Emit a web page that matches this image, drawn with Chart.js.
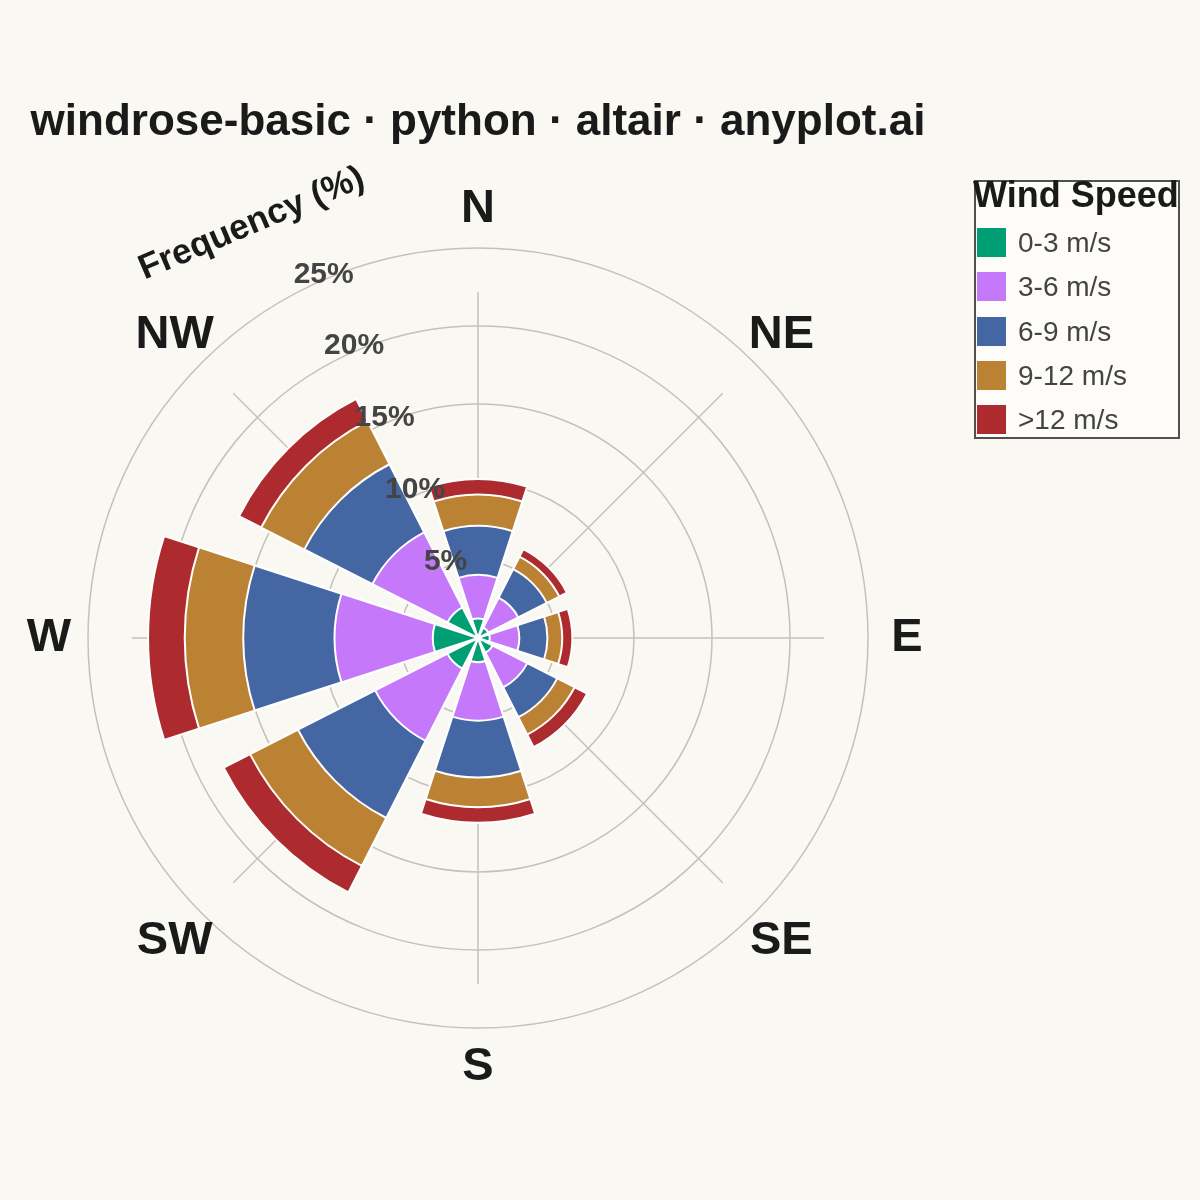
<!DOCTYPE html>
<html>
<head>
<meta charset="utf-8">
<title>windrose-basic</title>
<script src="https://cdn.jsdelivr.net/npm/chart.js@4.4.1/dist/chart.umd.min.js"></script>
<style>
  html, body { margin: 0; padding: 0; background: #faf8f2; }
  #wrap { position: relative; width: 1200px; height: 1200px; font-family: "Liberation Sans", Arial, sans-serif; }
  #rose { position: absolute; left: 0; top: 0; }
  #legendBox { position: absolute; left: 974px; top: 180px; width: 202px; height: 255px; border: 2px solid #505050; background: #fdfcf8; }
  #legendTitle { position: absolute; left: 973px; top: 177px; font-size: 36px; line-height: 36px; font-weight: bold; color: #1a1a1a; white-space: nowrap; }
  .swatch { position: absolute; left: 977px; width: 29px; height: 29px; }
  .lbl { position: absolute; left: 1018px; font-size: 28px; line-height: 29px; color: #444; white-space: nowrap; }
</style>
</head>
<body>
<div id="wrap">
  <canvas id="rose" width="1200" height="1200"></canvas>
  <div id="legendBox"></div>
  <div id="legendTitle">Wind Speed</div>
</div>
<script>
// wind directions (clockwise from north)
const directions = ['N', 'NE', 'E', 'SE', 'S', 'SW', 'W', 'NW'];
const speedBins = ['0-3 m/s', '3-6 m/s', '6-9 m/s', '9-12 m/s', '>12 m/s'];

// frequency (%) of each speed bin per direction
const speed0to3 = [1.25, 0.75, 0.75, 1.05, 1.55, 2.2, 2.9, 2.2];
const speed3to6 = [2.8, 2.15, 1.9, 2.5, 3.75, 5.2, 6.3, 5.4];
const speed6to9 = [3.15, 2.05, 1.8, 2.15, 3.65, 5.55, 5.85, 4.9];
const speed9to12 = [2.0, 0.9, 0.95, 1.25, 1.9, 3.45, 3.75, 3.1];
const speedOver12 = [1.0, 0.55, 0.65, 0.9, 1.0, 1.9, 2.35, 1.6];

const tickValues = [5, 10, 15, 20, 25];
const tickLabels = ['5%', '10%', '15%', '20%', '25%'];

const binColors = ['#009e73', '#c678fb', '#4467a3', '#bc8233', '#ad2b2f'];
const gridColor = '#c4c1ba';
const barAngle = 36;
const gapAngle = 9;

const series = [speed0to3, speed3to6, speed6to9, speed9to12, speedOver12];

// stacked radii: each layer is the running total, drawn outermost first
const cumulative = series.map((s, k) =>
  directions.map((_, i) => series.slice(0, k + 1).reduce((t, arr) => t + arr[i], 0)));

// each direction followed by an empty gap slice
const sliceLabels = [];
directions.forEach(d => { sliceLabels.push(d, ''); });

const datasets = cumulative.map((vals, k) => {
  const data = [];
  vals.forEach(v => { data.push(v, 0); });
  return {
    label: speedBins[k],
    data: data,
    backgroundColor: ctx => ctx.dataIndex % 2 === 0 ? binColors[k] : 'rgba(0,0,0,0)',
    borderColor: '#ffffff',
    borderWidth: ctx => ctx.dataIndex % 2 === 0 ? 2 : 0,
    angle: ctx => ctx.dataIndex % 2 === 0 ? barAngle : gapAngle
  };
});

// html legend
const wrap = document.getElementById('wrap');
speedBins.forEach((name, k) => {
  const sw = document.createElement('div');
  sw.className = 'swatch';
  sw.style.top = (228 + k * 44.3) + 'px';
  sw.style.background = binColors[k];
  wrap.appendChild(sw);
  const lb = document.createElement('div');
  lb.className = 'lbl';
  lb.style.top = (228 + k * 44.3) + 'px';
  lb.textContent = name;
  wrap.appendChild(lb);
});

const FONT = '"Liberation Sans", Arial, sans-serif';
Chart.defaults.font.family = FONT;

const roseDecor = {
  id: 'roseDecor',
  beforeDatasetsDraw(chart) {
    const s = chart.scales.r;
    const ctx = chart.ctx;
    const len = s.drawingArea * 0.8875;
    ctx.save();
    ctx.strokeStyle = gridColor;
    ctx.lineWidth = 1.5;
    directions.forEach((d, i) => {
      const a = (i * 45 - 90) * Math.PI / 180;
      ctx.beginPath();
      ctx.moveTo(s.xCenter, s.yCenter);
      ctx.lineTo(s.xCenter + len * Math.cos(a), s.yCenter + len * Math.sin(a));
      ctx.stroke();
    });
    ctx.restore();
  },
  afterDatasetsDraw(chart) {
    const s = chart.scales.r;
    const ctx = chart.ctx;
    ctx.save();
    ctx.textAlign = 'center';
    ctx.textBaseline = 'middle';

    // compass labels
    ctx.fillStyle = '#1a1a1a';
    ctx.font = 'bold 47px ' + FONT;
    const lr = s.drawingArea * 1.1;
    directions.forEach((d, i) => {
      const a = (i * 45 - 90) * Math.PI / 180;
      ctx.fillText(d, s.xCenter + lr * Math.cos(a), s.yCenter + lr * Math.sin(a));
    });

    // radial tick labels
    ctx.fillStyle = '#444444';
    ctx.font = 'bold 30px ' + FONT;
    const ta = (-23 - 90) * Math.PI / 180;
    tickValues.forEach((v, i) => {
      const r = s.getDistanceFromCenterForValue(v) + 5;
      ctx.fillText(tickLabels[i], s.xCenter + r * Math.cos(ta), s.yCenter + r * Math.sin(ta));
    });

    // radial axis title
    ctx.fillStyle = '#1a1a1a';
    ctx.font = 'bold 35px ' + FONT;
    ctx.translate(s.xCenter - s.drawingArea * 0.58, s.yCenter - s.drawingArea * 1.062);
    ctx.rotate(-23 * Math.PI / 180);
    ctx.fillText('Frequency (%)', 0, 0);
    ctx.restore();
  }
};

new Chart(document.getElementById('rose'), {
  type: 'polarArea',
  data: { labels: sliceLabels, datasets: datasets },
  options: {
    responsive: false,
    animation: false,
    devicePixelRatio: 1,
    // chart area 956 wide x 782 high: rose centred at x 478, title box wide enough
    layout: { padding: { left: 0, right: 244, top: 0, bottom: 171 } },
    scales: {
      r: {
        min: 0,
        max: 25,
        startAngle: -barAngle / 2,
        ticks: { stepSize: 5, display: false },
        grid: { color: gridColor, lineWidth: 1.5, circular: true },
        angleLines: { display: false },
        pointLabels: { display: false }
      }
    },
    plugins: {
      legend: { display: false },
      tooltip: { enabled: false },
      title: {
        display: true,
        text: 'windrose-basic · python · altair · anyplot.ai',
        color: '#1a1a1a',
        font: { size: 44, weight: 'bold' },
        padding: { top: 96, bottom: 99 }
      }
    }
  },
  plugins: [roseDecor]
});
</script>
</body>
</html>
